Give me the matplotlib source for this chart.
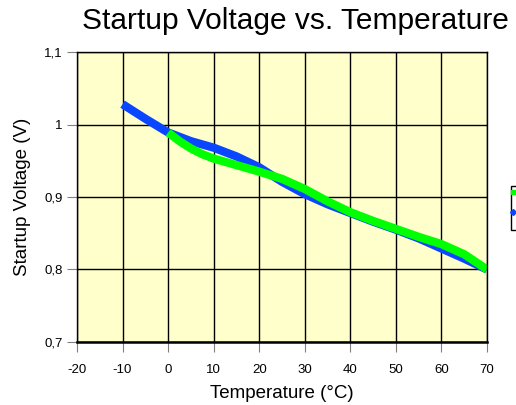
import matplotlib.pyplot as plt
from matplotlib.patches import Rectangle
from matplotlib.lines import Line2D

# values
temp_blue = [-10, -5, 0, 5, 10, 15, 20, 25, 30, 35, 40, 45, 50, 55, 60, 65, 70]
volt_blue = [1.028, 1.008, 0.989, 0.977, 0.968, 0.956, 0.941, 0.921, 0.904,
             0.890, 0.878, 0.866, 0.855, 0.843, 0.829, 0.815, 0.800]
temp_green = [0, 2.5, 5, 7.5, 10, 15, 20, 25, 30, 35, 40, 45, 50, 55, 60, 65, 70]
volt_green = [0.989, 0.977, 0.967, 0.959, 0.953, 0.944, 0.935, 0.925, 0.911,
              0.894, 0.879, 0.867, 0.856, 0.845, 0.835, 0.821, 0.800]
x_ticks = [-20, -10, 0, 10, 20, 30, 40, 50, 60, 70]
y_ticks = [0.7, 0.8, 0.9, 1.0, 1.1]
y_tick_labels = ["0,7", "0,8", "0,9", "1", "1,1"]

plt.rcParams['font.family'] = ['Liberation Sans', 'DejaVu Sans']
plt.rcParams['axes.unicode_minus'] = False

fig = plt.figure(figsize=(5.16, 4.05), dpi=100)
ax = fig.add_axes([77/516, 1-342/405, 410/516, 290/405])
ax.set_facecolor('#FFFFCC')

ax.plot(temp_blue, volt_blue, color='#0A46FF', lw=6, solid_capstyle='butt',
        solid_joinstyle='round')
ax.plot(temp_green, volt_green, color='#00FF00', lw=6, solid_capstyle='butt',
        solid_joinstyle='round')

ax.set_xlim(-20, 70)
ax.set_ylim(0.7, 1.1)
ax.set_xticks(x_ticks)
ax.set_yticks(y_ticks)
ax.set_yticklabels(y_tick_labels)
ax.grid(True, color='black', lw=1.0)
ax.tick_params(direction='out', length=7, color='#808080', labelsize=9.5)
ax.tick_params(axis='x', pad=9)
ax.tick_params(axis='y', pad=3.5)
for s in ax.spines.values():
    s.set_color('black')
    s.set_linewidth(1.0)
ax.spines['bottom'].set_linewidth(1.8)

ax.set_xlabel("Temperature (°C)", fontsize=13.5, labelpad=6)
ax.set_ylabel("Startup Voltage (V)", fontsize=13.5, labelpad=9)
fig.text(295/516, 1-21/405, "Startup Voltage vs. Temperature", fontsize=21.5,
         ha='center', va='center')

# legend box, mostly cut off at the right edge
fig.add_artist(Rectangle((511/516, 1-230/405), 20/516, 44/405,
                         transform=fig.transFigure, facecolor='white',
                         edgecolor='black', lw=1))
fig.add_artist(Line2D([513/516, 520/516], [1-192/405]*2, transform=fig.transFigure,
                      color='#00FF00', lw=2, marker='s', ms=3))
fig.add_artist(Line2D([513/516, 520/516], [1-212/405]*2, transform=fig.transFigure,
                      color='#0A46FF', lw=2, marker='D', ms=3))

fig.savefig("out.png", dpi=100)
